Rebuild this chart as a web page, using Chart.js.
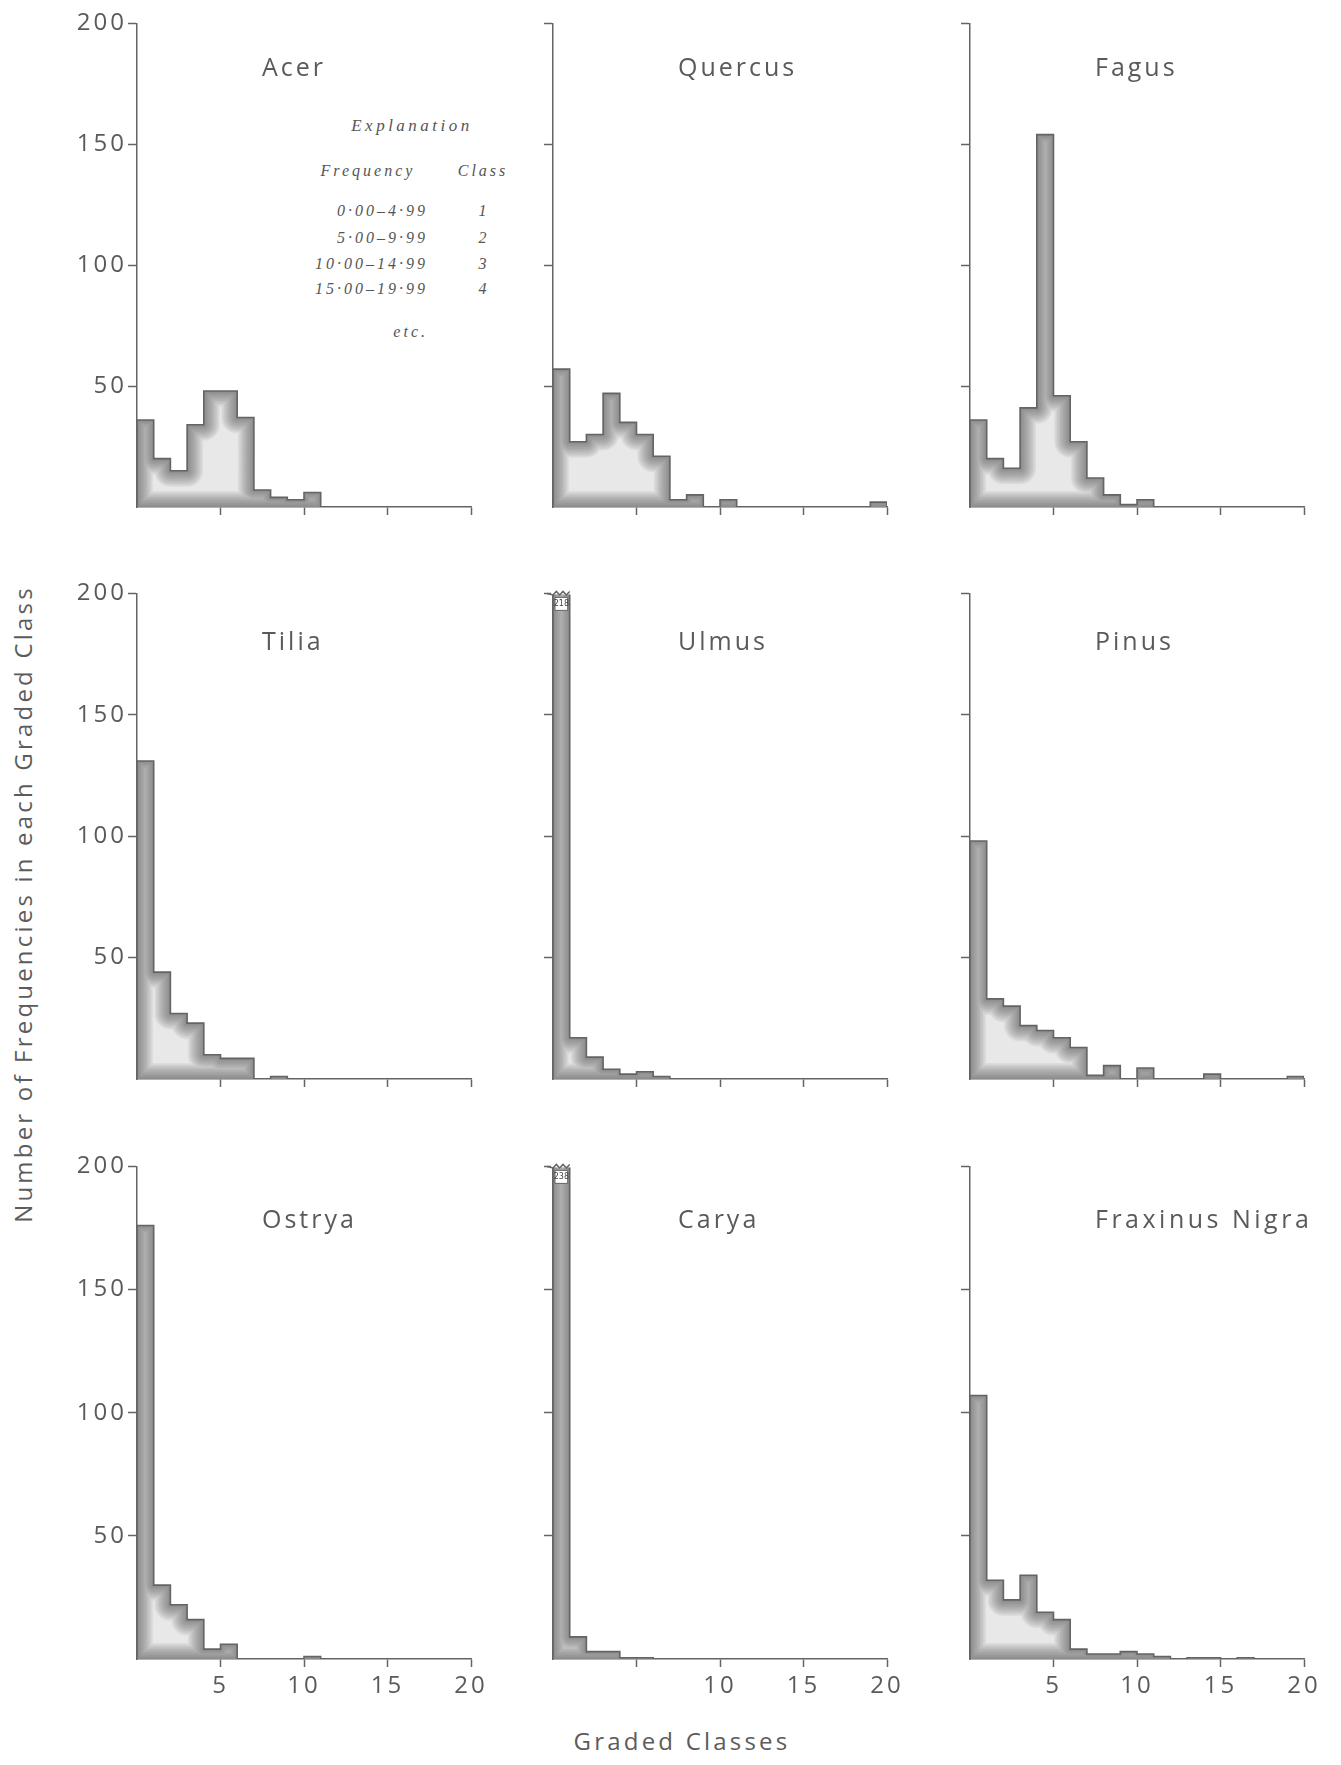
<!DOCTYPE html>
<html>
<head>
<meta charset="utf-8">
<script src="https://cdn.jsdelivr.net/npm/chart.js@4.4.1/dist/chart.umd.min.js"></script>
<style>
    body {
        margin: 0;
        background: #fff;
        width: 1341px;
        height: 1765px;
        position: relative;
        overflow: hidden;
        font-family: 'Open Sans', sans-serif;
        color: #5c5c5c;
    }
    canvas { position: absolute; }
    .lbl {
        position: absolute;
        white-space: nowrap;
        font-size: 24px;
        font-weight: 400;
        letter-spacing: 3.2px;
    }
    .ex {
        position: absolute;
        white-space: nowrap;
        font-family: 'Liberation Serif', serif;
        font-style: italic;
        font-size: 16px;
        letter-spacing: 3px;
        color: #555;
    }
</style>
</head>
<body>

<div class="lbl" style="left:22px;top:904px;transform:translate(-50%,-50%) rotate(-90deg)">Number of Frequencies in each Graded Class</div>
<div class="lbl" style="left:682px;top:1740px;transform:translate(-50%,-50%)">Graded Classes</div>

<div class="ex" style="left:412px;top:126px;transform:translate(-50%,-50%);font-size:17px;letter-spacing:3.5px">Explanation</div>
<div class="ex" style="left:368px;top:171px;transform:translate(-50%,-50%)">Frequency</div>
<div class="ex" style="left:483px;top:171px;transform:translate(-50%,-50%)">Class</div>
<div class="ex" style="left:428px;top:211px;transform:translate(-100%,-50%)">0·00–4·99</div>
<div class="ex" style="left:428px;top:238px;transform:translate(-100%,-50%)">5·00–9·99</div>
<div class="ex" style="left:428px;top:264px;transform:translate(-100%,-50%)">10·00–14·99</div>
<div class="ex" style="left:428px;top:289px;transform:translate(-100%,-50%)">15·00–19·99</div>
<div class="ex" style="left:484px;top:211px;transform:translate(-50%,-50%)">1</div>
<div class="ex" style="left:484px;top:238px;transform:translate(-50%,-50%)">2</div>
<div class="ex" style="left:484px;top:264px;transform:translate(-50%,-50%)">3</div>
<div class="ex" style="left:484px;top:289px;transform:translate(-50%,-50%)">4</div>
<div class="ex" style="left:428px;top:332px;transform:translate(-100%,-50%)">etc.</div>

<script>
// Graded classes (1 = 0.00-4.99, 2 = 5.00-9.99, ...)
const classes = [1, 2, 3, 4, 5, 6, 7, 8, 9, 10, 11, 12, 13, 14, 15, 16, 17, 18, 19, 20];

// Number of frequencies in each graded class, per genus
const acer     = [36, 20, 15, 34, 48, 48, 37, 7, 4, 3, 6, 0, 0, 0, 0, 0, 0, 0, 0, 0];
const quercus  = [57, 27, 30, 47, 35, 30, 21, 3, 5, 0, 3, 0, 0, 0, 0, 0, 0, 0, 0, 2];
const fagus    = [36, 20, 16, 41, 154, 46, 27, 12, 5, 1, 3, 0, 0, 0, 0, 0, 0, 0, 0, 0];
const tilia    = [131, 44, 27, 23, 10, 8.5, 8.5, 0, 1, 0, 0, 0, 0, 0, 0, 0, 0, 0, 0, 0];
const ulmus    = [218, 17, 9, 4, 2, 3, 1, 0, 0, 0, 0, 0, 0, 0, 0, 0, 0, 0, 0, 0];
const pinus    = [98, 33, 30, 22, 20, 17, 13, 1.5, 5.5, 0, 4.5, 0, 0, 0, 2, 0, 0, 0, 0, 1];
const ostrya   = [176, 30, 22, 16, 4, 6, 0, 0, 0, 0, 1, 0, 0, 0, 0, 0, 0, 0, 0, 0];
const carya    = [238, 9, 3, 3, 0.5, 0.5, 0, 0, 0, 0, 0, 0, 0, 0, 0, 0, 0, 0, 0, 0];
const fraxinus = [107, 32, 24, 34, 19, 16, 4, 2, 2, 3, 2, 1, 0, 0.5, 0.5, 0, 0.5, 0, 0, 0];

const genusNames = ['Acer', 'Quercus', 'Fagus', 'Tilia', 'Ulmus', 'Pinus', 'Ostrya', 'Carya', 'Fraxinus Nigra'];
const genusValues = [acer, quercus, fagus, tilia, ulmus, pinus, ostrya, carya, fraxinus];

// Tick labels
const yTickLabels = [50, 100, 150, 200];
const xTickLabels = [5, 10, 15, 20];
const caryaXTickLabels = [10, 15, 20];

// Layout of the 3x3 grid
const axisLeft = [137, 553, 970];
const rowTop = [20, 590, 1163];
const rowHeight = [487, 489, 496];
const titleOffset = [45, 49, 54];
const plotWidth = 334;
const yScaleWidth = 130;
const xScaleHeight = 60;
const padTop = 12;
const padRight = 40;

const ink = '#646464';
const textColor = '#5a5a5a';
const yMax = 200;

// Build the outline of the histogram as a closed step path
function stepPoints(values) {
    const pts = [{x: 0, y: 0}];
    values.forEach((v, i) => {
        pts.push({x: classes[i] - 1, y: v});
        pts.push({x: classes[i], y: v});
    });
    pts.push({x: classes[classes.length - 1], y: 0});
    return pts;
}

// Darken the inside edges of the filled shape (printed look)
const shadeWidths = [32, 29, 26, 23, 20, 17, 14, 11, 8, 5, 3];
const shadePlugin = {
    id: 'shade',
    afterDatasetDraw(chart, args) {
        if (args.index !== 0) return;
        const line = args.meta.dataset;
        const ctx = chart.ctx;
        const a = chart.chartArea;
        ctx.save();
        ctx.beginPath();
        ctx.rect(a.left, a.top, a.right - a.left, a.bottom - a.top);
        ctx.clip();
        ctx.beginPath();
        line.path(ctx);
        ctx.closePath();
        ctx.clip();
        ctx.lineJoin = 'round';
        ctx.strokeStyle = 'rgba(85,85,85,0.075)';
        shadeWidths.forEach(lw => {
            ctx.beginPath();
            line.path(ctx);
            ctx.closePath();
            ctx.lineWidth = lw;
            ctx.stroke();
        });
        ctx.restore();
    }
};

// Letter spacing for tick labels
const spacingPlugin = {
    id: 'spacing',
    beforeDraw(chart) {
        chart.ctx.letterSpacing = '3px';
    }
};

function makeTitlePlugin(text, offset) {
    return {
        id: 'panelTitle',
        afterDraw(chart) {
            const ctx = chart.ctx;
            const a = chart.chartArea;
            ctx.save();
            ctx.letterSpacing = text.length > 10 ? '3.5px' : '3px';
            ctx.font = '400 25px "Open Sans"';
            ctx.fillStyle = textColor;
            ctx.textAlign = 'left';
            ctx.textBaseline = 'middle';
            ctx.fillText(text, a.left + 125, a.top + offset);
            ctx.restore();
        }
    };
}

// Bars running off the top get a break mark and their value
function makeBrokenPlugin(values) {
    return {
        id: 'broken',
        afterDatasetsDraw(chart) {
            const ctx = chart.ctx;
            const xs = chart.scales.x;
            const ys = chart.scales.y;
            values.forEach((v, i) => {
                if (v <= yMax) return;
                const x0 = xs.getPixelForValue(classes[i] - 1);
                const x1 = xs.getPixelForValue(classes[i]);
                const yTop = ys.getPixelForValue(yMax);
                ctx.save();
                ctx.fillStyle = '#fff';
                ctx.fillRect(x0 - 2, yTop - 4, x1 - x0 + 4, 5);
                ctx.fillRect(x0 + 2, yTop + 4, x1 - x0 - 4, 13);
                ctx.strokeStyle = ink;
                ctx.lineWidth = 1.5;
                ctx.beginPath();
                ctx.moveTo(x0 - 6, yTop);
                const n = 5;
                for (let k = 0; k <= n; k++) {
                    const px = x0 + (x1 - x0) * k / n;
                    ctx.lineTo(px, yTop + (k % 2 ? -2 : 1.5));
                }
                ctx.stroke();
                ctx.beginPath();
                ctx.rect(x0 + 2, yTop + 4, x1 - x0 - 4, 13);
                ctx.lineWidth = 1;
                ctx.stroke();
                ctx.fillStyle = '#444';
                ctx.font = '8px "DejaVu Sans"';
                ctx.letterSpacing = '0px';
                ctx.textAlign = 'center';
                ctx.textBaseline = 'middle';
                ctx.fillText(String(v), (x0 + x1) / 2, yTop + 11);
                ctx.restore();
            });
        }
    };
}

function createPanel(index) {
    const col = index % 3;
    const row = Math.floor(index / 3);
    const values = genusValues[index];
    const name = genusNames[index];
    const xLabels = row === 2 ? (name === 'Carya' ? caryaXTickLabels : xTickLabels) : [];
    const yLabels = col === 0 ? yTickLabels : [];

    const canvas = document.createElement('canvas');
    const w = yScaleWidth + plotWidth + padRight;
    const h = padTop + rowHeight[row] + xScaleHeight;
    canvas.width = w;
    canvas.height = h;
    canvas.style.left = (axisLeft[col] - yScaleWidth) + 'px';
    canvas.style.top = (rowTop[row] - padTop) + 'px';
    document.body.appendChild(canvas);

    const points = stepPoints(values);
    const tickFont = {family: '"Open Sans"', size: 24, weight: '400'};

    new Chart(canvas.getContext('2d'), {
        type: 'line',
        data: {
            datasets: [
                {
                    data: points,
                    fill: 'origin',
                    backgroundColor: '#e8e8e8',
                    borderWidth: 0,
                    pointRadius: 0,
                    order: 2
                },
                {
                    data: points,
                    fill: false,
                    borderColor: ink,
                    borderWidth: 1.6,
                    pointRadius: 0,
                    order: 1
                }
            ]
        },
        options: {
            responsive: false,
            animation: false,
            events: [],
            layout: {padding: {top: padTop, right: padRight, left: 0, bottom: 0}},
            plugins: {
                legend: {display: false},
                tooltip: {enabled: false}
            },
            scales: {
                x: {
                    type: 'linear',
                    min: 0,
                    max: 20,
                    afterFit: s => { s.height = xScaleHeight; },
                    afterBuildTicks: s => {
                        s.ticks = xTickLabels.map(v => ({value: v}));
                    },
                    ticks: {
                        autoSkip: false,
                        maxRotation: 0,
                        padding: 5,
                        color: textColor,
                        font: tickFont,
                        callback: v => xLabels.includes(v) ? String(v) : ''
                    },
                    grid: {
                        drawOnChartArea: false,
                        tickLength: 8,
                        tickWidth: 1.5,
                        tickColor: ink
                    },
                    border: {color: ink, width: 1.5}
                },
                y: {
                    min: 0,
                    max: yMax,
                    afterFit: s => { s.width = yScaleWidth; },
                    afterBuildTicks: s => {
                        s.ticks = yTickLabels.map(v => ({value: v}));
                    },
                    ticks: {
                        autoSkip: false,
                        padding: 1,
                        color: textColor,
                        font: tickFont,
                        callback: v => yLabels.includes(v) ? String(v) : ''
                    },
                    grid: {
                        drawOnChartArea: false,
                        tickLength: 9,
                        tickWidth: 1.5,
                        tickColor: ink
                    },
                    border: {color: ink, width: 1.5}
                }
            }
        },
        plugins: [spacingPlugin, shadePlugin, makeTitlePlugin(name, titleOffset[row]), makeBrokenPlugin(values)]
    });
}

document.addEventListener('DOMContentLoaded', () => {
    genusNames.forEach((_, i) => createPanel(i));
});
</script>
</body>
</html>
